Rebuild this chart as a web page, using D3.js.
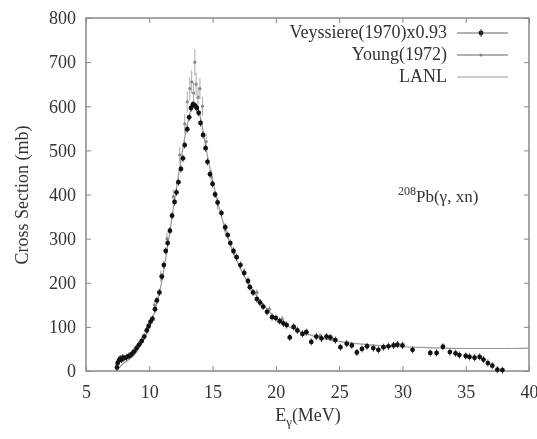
<!DOCTYPE html>
<html><head><meta charset="utf-8">
<script src="https://cdn.jsdelivr.net/npm/d3@7"></script>
<style>
html,body{margin:0;padding:0;background:#fff;}
svg{display:block;filter:blur(0.5px);}
text{font-family:"Liberation Serif","Times New Roman",serif;fill:#333;}
</style></head><body>
<svg id="c" width="537" height="439"></svg>
<script>
// Veyssiere(1970) x0.93 data
const veyE = [7.45,7.5,7.6,7.7,7.8,7.9,8.0,8.2,8.4,8.6,8.8,9.0,9.2,9.4,9.6,9.8,9.95,10.1,10.25,10.45,10.6,10.8,11.0,11.15,11.3,11.45,11.63,11.8,12.0,12.15,12.3,12.5,12.66,12.8,13.0,13.15,13.3,13.45,13.6,13.75,13.9,14.05,14.25,14.45,14.6,14.8,15.0,15.2,15.4,15.7,16.0,16.2,16.4,16.65,16.9,17.2,17.5,17.8,17.95,18.2,18.5,18.75,19.0,19.3,19.7,20.0,20.3,20.6,20.85,21.1,21.4,21.7,22.1,22.4,22.8,23.2,23.6,24.0,24.3,24.7,25.1,25.6,26.0,26.4,26.8,27.2,27.7,28.1,28.5,28.9,29.3,29.6,30.0,30.8,32.2,32.7,33.2,33.75,34.2,34.5,35.0,35.3,35.7,36.1,36.4,36.75,37.1,37.5,37.9];
const veyV = [8,18,24,28,26,30,29,31,34,38,44,52,60,68,78,92,102,112,118,140,160,178,214,240,272,290,318,352,383,405,428,458,482,512,548,575,596,604,602,596,585,562,535,505,474,446,424,400,382,358,326,308,290,272,258,240,222,204,190,178,163,155,146,134,122,120,113,108,104,76,100,92,84,88,66,78,74,78,76,70,54,62,58,42,50,56,52,48,54,56,58,60,58,48,41,41,55,43,40,36,34,32,30,32,26,18,12,3,2];
// Young(1972) data
const yngE = [9.9,10.4,10.9,11.4,11.9,12.4,12.8,13.0,13.2,13.35,13.5,13.6,13.7,13.85,14.0,14.2,14.5,14.9,15.4,16.0,16.7,17.5,18.5,19.5,20.5,21.5,22.5,23.5,24.5];
const yngV = [98,150,215,300,395,490,560,610,640,655,630,700,650,620,640,600,520,440,380,320,268,225,178,140,118,100,88,80,72];
const yngErr = [8,10,12,14,16,18,22,24,26,26,26,30,26,24,24,22,18,16,14,12,10,9,8,7,7,6,6,6,6];
// LANL evaluation
const lanlE = [7.4,8,8.5,9,9.5,10,10.5,11,11.5,12,12.5,13,13.4,13.7,14,14.5,15,15.5,16,16.5,17,17.5,18,19,20,21,22,23,24,25,26,28,30,32,35,38,40];
const lanlV = [0,18,28,44,68,98,142,205,292,388,478,558,598,604,580,502,432,372,322,280,245,215,190,150,121,101,88,79,72,67,63,58,55,53,51,51,52];
// Axis ticks
const xTicks = [5,10,15,20,25,30,35,40];
const yTicks = [0,100,200,300,400,500,600,700,800];
const legendLabels = ["Veyssiere(1970)x0.93","Young(1972)","LANL"];

const svg = d3.select("#c");
const L=86, R=529, T=18, B=371;
const x = d3.scaleLinear().domain([5,40]).range([L,R]);
const y = d3.scaleLinear().domain([0,800]).range([B,T]);
const axisCol="#888";

// frame
svg.append("rect").attr("x",L).attr("y",T).attr("width",R-L).attr("height",B-T)
  .attr("fill","none").attr("stroke",axisCol).attr("stroke-width",1.5);

const fs=18;
// axes
const ax = svg.append("g").attr("transform",`translate(0,${B})`)
  .call(d3.axisBottom(x).tickValues(xTicks).tickSizeInner(-5).tickSizeOuter(0).tickPadding(14));
const ay = svg.append("g").attr("transform",`translate(${L},0)`)
  .call(d3.axisLeft(y).tickValues(yTicks).tickSizeInner(-5).tickSizeOuter(0).tickPadding(10));
const axt = svg.append("g").attr("transform",`translate(0,${T})`)
  .call(d3.axisTop(x).tickValues(xTicks).tickSizeInner(-5).tickSizeOuter(0).tickFormat(""));
const ayr = svg.append("g").attr("transform",`translate(${R},0)`)
  .call(d3.axisRight(y).tickValues(yTicks).tickSizeInner(-5).tickSizeOuter(0).tickFormat(""));
[ax,ay,axt,ayr].forEach(g=>{
  g.select(".domain").remove();
  g.selectAll("line").attr("stroke",axisCol);
  g.selectAll("text").attr("font-size",fs).attr("font-family","Liberation Serif").attr("fill","#333");
});

// axis labels
svg.append("text").attr("transform",`translate(28,195) rotate(-90)`).attr("text-anchor","middle")
  .attr("font-size",fs).text("Cross Section (mb)");
const xl = svg.append("text").attr("x",308).attr("y",421).attr("text-anchor","middle").attr("font-size",fs);
xl.append("tspan").text("E");
xl.append("tspan").attr("font-size",13).attr("dy",5).text("γ");
xl.append("tspan").attr("dy",-5).text("(MeV)");

// annotation
const an = svg.append("text").attr("x",398).attr("y",202).attr("font-size",17);
an.append("tspan").attr("font-size",12).attr("dy",-7).text("208");
an.append("tspan").attr("dy",7).text("Pb(γ, xn)");

// LANL line
svg.append("path").datum(lanlE.map((e,i)=>[e,lanlV[i]]))
  .attr("fill","none").attr("stroke","#999").attr("stroke-width",1.2)
  .attr("d",d3.line().x(d=>x(d[0])).y(d=>y(d[1])).curve(d3.curveMonotoneX));

// Young
const yg = svg.append("g");
yngE.forEach((e,i)=>{
  yg.append("line").attr("x1",x(e)).attr("x2",x(e)).attr("y1",y(yngV[i]-yngErr[i])).attr("y2",y(yngV[i]+yngErr[i]))
    .attr("stroke","#aaa").attr("stroke-width",1);
});
yg.selectAll("circle").data(yngE).join("circle")
  .attr("cx",d=>x(d)).attr("cy",(d,i)=>y(yngV[i])).attr("r",1.6).attr("fill","#888");

// Veyssiere
const vg = svg.append("g");
veyE.forEach((e,i)=>{
  vg.append("line").attr("x1",x(e)).attr("x2",x(e)).attr("y1",y(veyV[i]-8)).attr("y2",y(veyV[i]+8))
    .attr("stroke","#444").attr("stroke-width",1);
});
vg.selectAll("circle").data(veyE).join("circle")
  .attr("cx",d=>x(d)).attr("cy",(d,i)=>y(veyV[i])).attr("r",2.4).attr("fill","#111");

// legend
const ly=[33,55,77];
legendLabels.forEach((t,i)=>{
  svg.append("text").attr("x",447).attr("y",ly[i]+5).attr("text-anchor","end").attr("font-size",fs).text(t);
  svg.append("line").attr("x1",457).attr("x2",508).attr("y1",ly[i]).attr("y2",ly[i])
    .attr("stroke",i===2?"#999":"#666").attr("stroke-width",1);
});
svg.append("circle").attr("cx",481).attr("cy",ly[0]).attr("r",2.4).attr("fill","#111");
svg.append("line").attr("x1",481).attr("x2",481).attr("y1",ly[0]-4).attr("y2",ly[0]+4).attr("stroke","#444");
svg.append("circle").attr("cx",481).attr("cy",ly[1]).attr("r",1.6).attr("fill","#888");
</script></body></html>
